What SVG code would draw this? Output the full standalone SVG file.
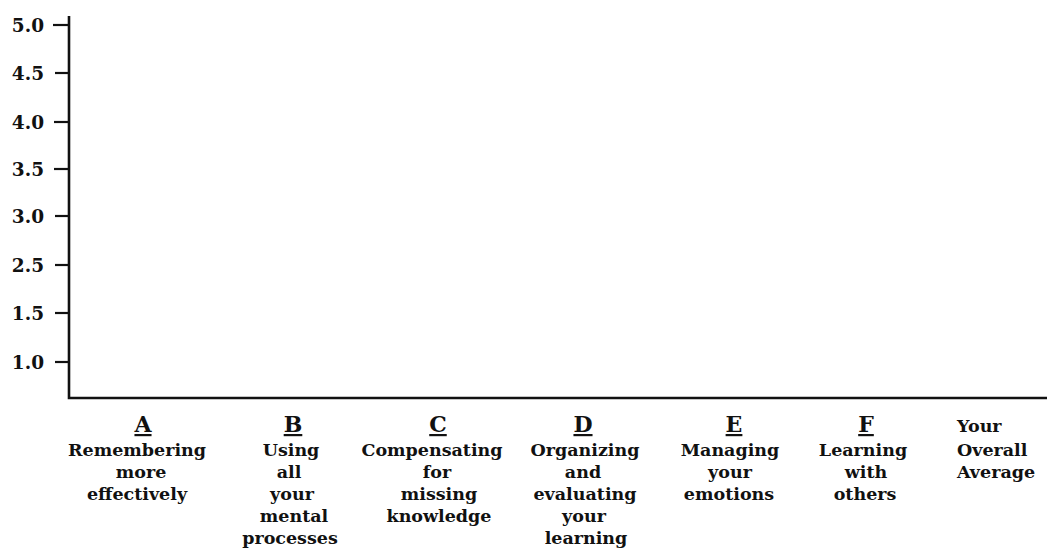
<svg xmlns="http://www.w3.org/2000/svg" width="1047" height="554" viewBox="0 0 1047 554">
<style>
  text { font-family: "DejaVu Serif", "Liberation Serif", serif; fill: #111; }
  .ylab { font-size: 18.5px; text-anchor: end; font-weight: bold; }
  .head { font-size: 22px; text-anchor: middle; text-decoration: underline; font-weight: bold; }
  .lab { font-size: 17.5px; text-anchor: middle; font-weight: bold; }
  .labl { font-size: 17.5px; text-anchor: start; font-weight: bold; }
  .axis { stroke: #111; stroke-width: 2.6; fill: none; }
  .tick { stroke: #111; stroke-width: 2.2; }
</style>
<rect width="1047" height="554" fill="#fff"/>
<g id="axes">
  <path class="axis" d="M69,16 V398 H1047"/>
  <line class="tick" x1="53" y1="25" x2="69" y2="25"/>
  <line class="tick" x1="55" y1="73" x2="69" y2="73"/>
  <line class="tick" x1="54" y1="122" x2="69" y2="122"/>
  <line class="tick" x1="54" y1="169" x2="69" y2="169"/>
  <line class="tick" x1="55" y1="216" x2="69" y2="216"/>
  <line class="tick" x1="55" y1="265" x2="69" y2="265"/>
  <line class="tick" x1="55" y1="313" x2="69" y2="313"/>
  <line class="tick" x1="55" y1="362" x2="69" y2="362"/>
</g>
<g id="ylabels">
  <text class="ylab" x="44" y="32">5.0</text>
  <text class="ylab" x="44" y="80">4.5</text>
  <text class="ylab" x="44" y="129">4.0</text>
  <text class="ylab" x="44" y="176">3.5</text>
  <text class="ylab" x="44" y="223">3.0</text>
  <text class="ylab" x="44" y="272">2.5</text>
  <text class="ylab" x="44" y="320">1.5</text>
  <text class="ylab" x="44" y="369">1.0</text>
</g>
<g id="colA">
  <text class="head" x="143" y="432">A</text>
  <text class="lab" x="137" y="456">Remembering</text>
  <text class="lab" x="141" y="478">more</text>
  <text class="lab" x="137" y="500">effectively</text>
</g>
<g id="colB">
  <text class="head" x="293" y="432">B</text>
  <text class="lab" x="291" y="456">Using</text>
  <text class="lab" x="289" y="478">all</text>
  <text class="lab" x="292" y="500">your</text>
  <text class="lab" x="294" y="522">mental</text>
  <text class="lab" x="290" y="544">processes</text>
</g>
<g id="colC">
  <text class="head" x="438" y="432">C</text>
  <text class="lab" x="432" y="456">Compensating</text>
  <text class="lab" x="437" y="478">for</text>
  <text class="lab" x="439" y="500">missing</text>
  <text class="lab" x="439" y="522">knowledge</text>
</g>
<g id="colD">
  <text class="head" x="583" y="432">D</text>
  <text class="lab" x="585" y="456">Organizing</text>
  <text class="lab" x="583" y="478">and</text>
  <text class="lab" x="585" y="500">evaluating</text>
  <text class="lab" x="584" y="522">your</text>
  <text class="lab" x="586" y="544">learning</text>
</g>
<g id="colE">
  <text class="head" x="734" y="432">E</text>
  <text class="lab" x="730" y="456">Managing</text>
  <text class="lab" x="730" y="478">your</text>
  <text class="lab" x="729" y="500">emotions</text>
</g>
<g id="colF">
  <text class="head" x="866" y="432">F</text>
  <text class="lab" x="863" y="456">Learning</text>
  <text class="lab" x="866" y="478">with</text>
  <text class="lab" x="865" y="500">others</text>
</g>
<g id="colAvg">
  <text class="labl" x="957" y="432">Your</text>
  <text class="labl" x="957" y="456">Overall</text>
  <text class="labl" x="957" y="478">Average</text>
</g>
</svg>
